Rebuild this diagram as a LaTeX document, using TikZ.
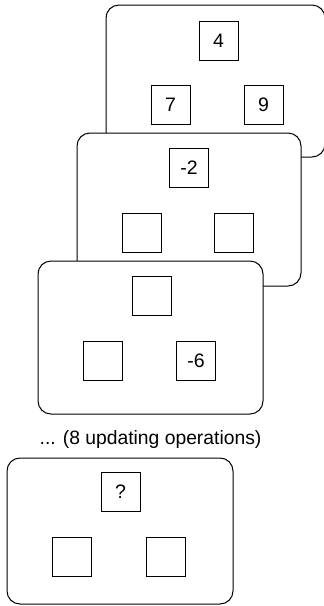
\documentclass[tikz,border=0pt]{standalone}
\usepackage{fontspec}
\setmainfont{Liberation Sans}
\begin{document}
\begin{tikzpicture}[x=1pt,y=-1pt,
  card/.style={draw, fill=white, rounded corners=13pt, line width=1pt, inner sep=0pt},
  cell/.style={draw, fill=white, line width=0.9pt, minimum size=39pt, inner sep=0pt,
    font=\fontsize{19.5}{22}\selectfont},
  lbl/.style={font=\fontsize{19.3}{22}\selectfont, inner sep=0pt}]
\useasboundingbox (0,0) rectangle (324,606);
\clip (0,0) rectangle (324,606);
% card 1
\node[card, minimum width=219pt, minimum height=152pt] (c1) at (215.5,81) {};
\node[cell] (a1) at (218.5,40.5) {4};
\node[cell] (a2) at (170.5,105) {7};
\node[cell] (a3) at (263.5,105) {9};
% card 2
\node[card, minimum width=224pt, minimum height=153pt] (c2) at (189,209.5) {};
\node[cell] (b1) at (189,168) {-2};
\node[cell] (b2) at (141.5,233) {};
\node[cell] (b3) at (233.5,233) {};
% card 3
\node[card, minimum width=225pt, minimum height=153pt] (c3) at (150.5,337.5) {};
\node[cell] (d1) at (151.5,296) {};
\node[cell] (d2) at (103,361) {};
\node[cell] (d3) at (196,361) {-6};
% label
\node[lbl, anchor=base] (t) at (150.5,444) {... (8 updating operations)};
% card 4
\node[card, minimum width=226pt, minimum height=146pt] (c4) at (120,531) {};
\node[cell] (e1) at (120.5,492) {?};
\node[cell] (e2) at (72,556.5) {};
\node[cell] (e3) at (165.5,556.5) {};
\end{tikzpicture}
\end{document}
